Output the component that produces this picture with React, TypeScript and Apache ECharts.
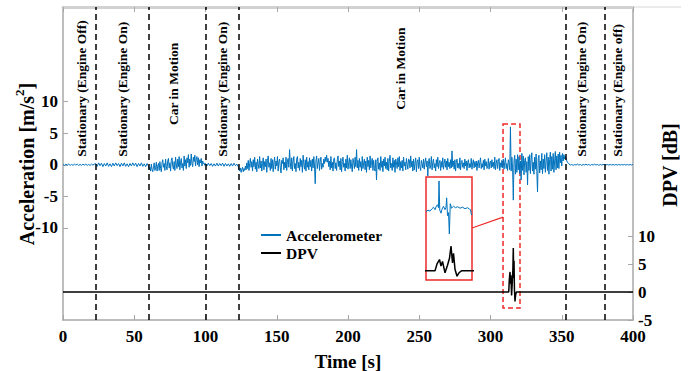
import React, { useEffect, useRef } from "react";
import * as echarts from "echarts";

const FONT = '"Liberation Serif", "Times New Roman", Times, serif';
const BLUE = "#0072BD";
const RED = "#ee2a2a";
const AXIS_GRAY = "#a8a8a8";

// ---- axis ticks / ranges ----
const xInterval = 50;
const accelTickValues = [-10, -5, 0, 5, 10];
const dpvTickValues = [-5, 0, 5, 10];

// ---- phase dividers and labels ----
const dividerTimes = [23, 60, 100, 123, 353, 380];
const regionLabels = [
  "Stationary (Engine Off)",
  "Stationary (Engine On)",
  "Car in Motion",
  "Stationary (Engine On)",
  "Car in Motion",
  "Stationary (Engine On)",
  "Stationary (Engine off)",
];
const regionLabelTimes = [13.3, 42.1, 77.2, 111.6, 236.5, 364.2, 388.8];
const regionLabelStartAccel = [1.25, 1.25, 6.3, 1.25, 8.7, 1.25, 1.25];

// ---- accelerometer ----
const accelEngineOff1 = [0.05, -0.1, 0.1, -0.05, 0.1, -0.1, 0.05, -0.1, 0.1, -0.05, 0.1, -0.1, 0.05, -0.1, 0.1, -0.05, 0.1, -0.1, 0.05, -0.1, 0.1, -0.05, 0.1];
const accelEngineOn1 = [
  0.2, -0.25, 0.3, -0.15, 0.25, -0.3, 0.2, -0.2, 0.3, -0.25,
  0.15, -0.3, 0.25, -0.2, 0.3, -0.15, 0.2, -0.3, 0.25, -0.2,
  0.3, -0.25, 0.15, -0.3, 0.2, -0.2, 0.3, -0.15, 0.25, -0.3,
  0.2, -0.2, 0.3, -0.25, 0.15, -0.3, 0.2,
];
const accelMotion1 = [
  -0.2, -0.7, -0.4, -1.0, 0.1, -0.8, -1.1, -0.3, 0.3, -0.9,
  -0.5, 0.4, -1.0, -0.2, 0.2, -0.9, 0.5, -0.6, -1.1, 0.3,
  0.8, -0.4, 0.2, -0.9, 0.9, -0.3, -0.8, 0.6, 1.0, -0.5,
  0.3, -1.0, 0.7, 1.1, -0.2, -0.7, 0.5, -0.9, 1.2, 0.1,
  -0.6, 0.9, -0.3, 1.3, -0.8, 0.4, 1.0, -0.5, 0.2, -0.9,
  1.4, -0.2, 0.8, -0.6, 1.1, 0.3, 1.6, -0.4, 0.9, -0.1,
  1.7, 0.2, -0.3, 1.2, 0.5, 1.5, -0.2, 0.9, 1.3, 0.0,
  1.1, -0.3, 0.8, 0.3, 1.0, -0.2, 0.6, 0.2, 0.3, -0.1,
];
const accelEngineOn2 = [0.2, -0.2, 0.25, -0.15, 0.2, -0.25, 0.15, -0.2, 0.25, -0.2, 0.2, -0.15, 0.25, -0.25, 0.2, -0.2, 0.15, -0.25, 0.2, -0.2, 0.25, -0.15, 0.1];
const accelMotion2 = [
  -0.3, -0.8, -1.0, -0.5, -1.2, -0.7, -0.4, -1.1, -0.6, -0.9,
  -0.2, -0.8, 0.3, -0.6, 0.7, -0.9, 0.2, 1.0, -0.4, 0.5,
  -1.0, 0.8, -0.3, 1.2, -0.7, 0.4, -1.1, 0.9, 0.1, -0.6,
  1.3, -0.5, 0.6, -1.0, 0.2, 1.1, -0.8, 0.5, -0.3, 0.9,
  -1.2, 0.7, 1.4, -0.4, 0.3, -0.9, 1.0, -0.6, 0.8, -1.1,
  0.4, 1.2, -0.7, 0.6, -0.2, 1.3, -1.0, 0.5, 0.9, -0.5,
  -1.3, 0.7, 0.2, 1.1, -0.8, 0.4, -0.5, 1.2, -0.9, 0.6,
  1.0, -0.4, 2.4, 0.3, -0.7, 1.1, -1.0, 0.6, 1.3, -0.6,
  0.2, -1.1, 0.9, 1.3, -0.5, 0.4, -0.9, 1.0, -0.3, 0.7,
  -1.2, 1.5, 0.1, -0.7, 0.8, -1.0, 1.2, -0.4, 0.5, -0.8,
  1.1, -0.3, 0.7, -1.0, 0.9, -0.5, 1.3, -0.2, -3.0, 0.6,
  1.4, -0.6, 0.3, 1.0, -0.9, 0.5, 1.2, -0.7, 0.2, -0.4,
  0.9, 0.2, 1.2, 0.5, 1.5, 0.4, 1.0, -0.3, 0.6, -0.8,
  1.3, -0.5, 0.4, -1.0, 0.9, 1.1, -0.6, 0.3, -0.9, 0.8,
  1.4, -0.3, 0.6, -0.8, 1.0, -1.1, 0.5, 1.2, -0.4, 0.2,
  -1.0, 0.9, -0.5, 1.5, -0.7, 0.3, 1.1, -0.6, 0.8, -0.2,
  -1.1, 1.0, 0.4, -0.6, 1.2, -0.3, 2.4, -0.5, 0.7, -0.9,
  1.0, -0.4, 0.5, -1.0, 1.3, -0.6, 0.3, 0.9, -0.8, 0.6,
  -1.2, 1.2, -0.3, 0.7, -0.8, 1.4, -0.5, 0.4, 1.0, -0.9,
  0.7, -0.6, -1.0, 0.8, -2.4, 0.5, 1.1, -0.7, 0.3, -0.9,
  1.3, -0.4, 0.6, -1.1, 0.9, -0.2, 1.2, -0.6, 0.4, -0.8,
  1.0, -1.0, 0.5, 1.5, -0.5, 0.2, -0.9, 1.1, -0.4, 0.7,
  -1.2, 0.9, 0.3, -0.6, 1.1, -0.3, 1.3, -0.9, 0.5, -0.5,
  0.7, -1.0, 1.2, -0.2, 0.4, -0.8, 1.0, 0.1, -0.7, 0.9,
  0.8, -0.5, 1.4, -0.3, 0.6, -1.0, 0.9, -0.8, 0.3, 1.1,
  -1.1, 0.5, 0.8, -0.6, 1.2, -0.4, -0.9, 0.7, 0.2, -0.5,
  0.9, -0.7, 0.4, 1.1, -0.3, 0.6, -1.8, 0.5, 1.0, -0.6,
  -0.2, 1.3, -0.8, 0.4, 0.9, -0.5, 0.2, -1.0, 0.8, -0.3,
  1.2, -0.6, 0.3, 0.7, -0.9, 0.5, -0.4, 1.1, -0.7, 0.2,
  0.9, -0.4, 0.6, -0.8, 1.0, -0.3, 0.4, -0.6, 0.8, -0.5,
  2.2, -0.3, 0.6, -0.7, 0.8, -1.0, 0.4, 0.9, -0.5, 0.2,
  -0.6, 1.1, -0.8, 0.5, 0.7, -0.4, 0.3, -0.6, 0.9, -0.2,
  0.6, -0.9, 0.4, 0.8, -0.5, 0.2, -0.4, 1.0, -0.7, 0.3,
  0.8, -0.5, 0.5, -0.3, 0.6, -0.9, 0.3, 0.7, -0.5, 0.4,
  1.1, -0.6, 0.2, -0.4, 0.7, -0.8, 0.9, -0.2, 0.5, -0.6,
  -0.4, 1.0, -0.7, 0.3, 0.6, -0.5, 0.8, -0.3, 0.4, -0.6,
  1.2, -0.8, 0.2, 0.8, -0.6, 0.5, 1.0, -0.9, 0.3, -0.4,
  0.7, -0.5, 0.9, -0.7, 0.4, 1.1, -0.6, 0.2, -0.9, 0.8,
  0.3, -0.8, 6.0, -1.0, 1.2, -0.5, -5.6, 0.6, 1.5, -1.5,
  0.9, -1.2, 1.6, -0.8, 1.3, -1.4, 0.6, -2.4, 1.8, -0.9,
  1.4, -1.6, 0.7, 1.1, -1.2, 0.5, -3.2, 1.3, -0.9, 1.6,
  -1.4, 0.8, 1.9, -1.0, 0.4, -1.5, 1.2, -0.7, 1.7, -1.1,
  -4.3, 1.0, 1.5, -1.3, 0.6, -0.8, 1.8, -1.4, 0.9, -0.6,
  1.6, -1.2, 0.5, 1.9, -0.9, 1.2, -1.5, 0.8, 2.0, -1.0,
  1.3, -0.7, 1.8, -1.2, 0.6, 2.1, -0.8, 1.4, -0.5, 1.7,
  -0.6, 2.0, 0.3, 1.5, -0.2, 1.8, 0.6, 1.6, 0.9, 1.3,
];
const accelEngineOn3 = [0.9, 0.4, 0.15, -0.05, 0.05, -0.1, 0.05, -0.05, 0.1, -0.05, 0.05, -0.1, 0.05, -0.05, 0.1, -0.05, 0.05, -0.1, 0.05, -0.05, 0.1, -0.05, 0.05, -0.1, 0.05, -0.05, 0.05];
const accelEngineOff2 = [0.05, -0.05, 0.05, -0.05, 0.05, -0.05, 0.05, -0.05, 0.05, -0.05, 0.05, -0.05, 0.05, -0.05, 0.05, -0.05, 0.05, -0.05, 0.05, -0.05, 0.05];
const accelSegments = [
  { start: 0, step: 1, values: accelEngineOff1 },
  { start: 23, step: 1, values: accelEngineOn1 },
  { start: 60, step: 0.5, values: accelMotion1 },
  { start: 100, step: 1, values: accelEngineOn2 },
  { start: 123, step: 0.5, values: accelMotion2 },
  { start: 353, step: 1, values: accelEngineOn3 },
  { start: 380, step: 1, values: accelEngineOff2 },
];

// ---- DPV ----
const dpvTime = [0, 312.8, 313.2, 313.7, 314.0, 314.3, 314.8, 315.3, 315.7, 316.0, 316.3, 316.5, 316.8, 317.2, 317.6, 318.1, 400];
const dpvValues = [0, 0, 2.2, 3.6, 1.5, 3.0, -0.6, 1.8, 4.0, 7.9, 2.5, 5.6, 0.5, -1.7, -0.6, 0, 0];

// ---- inset (zoomed accelerometer) ----
const insetRange = [311, 320.2];
const insetAccelTime = [311.0, 311.4, 311.8, 312.2, 312.5, 312.8, 313.1, 313.3, 313.5, 313.6, 313.75, 314.0, 314.2, 314.5, 314.8, 315.0, 315.13, 315.3, 315.5, 315.67, 315.85, 316.1, 316.5, 316.9, 317.3, 317.8, 318.3, 318.8, 319.3, 319.7, 319.9, 320.1];
const insetAccelValues = [0.0, 0.3, 0.1, 0.6, 0.9, 0.4, 1.2, 1.4, 0.8, 6.2, 0.3, -0.3, 0.5, 1.1, 0.4, 0.9, 2.8, -0.8, -0.2, -4.5, 1.6, 0.7, 1.1, 0.8, 1.0, 0.7, 0.9, 0.6, 0.8, 0.5, 0.4, -0.7];

// ---- highlighted window (dashed box) ----
const windowTime = [308.8, 320.7];
const windowAccel = [6.47, -22.7];

const accelData = accelSegments.flatMap((s) => s.values.map((v, i) => [s.start + i * s.step, v]));
const dpvData = dpvTime.map((t, i) => [t, dpvValues[i]]);
const insetAccelData = insetAccelTime.map((t, i) => [t, insetAccelValues[i]]);

const tickLabel = { color: "#000", fontSize: 17, fontWeight: "bold", fontFamily: FONT };

export default function App() {
  const ref = useRef<HTMLDivElement>(null);
  useEffect(() => {
    if (!ref.current) return;
    const chart = echarts.init(ref.current, null, { renderer: "svg" });
    const option: any = {
      animation: false,
      backgroundColor: "#fff",
      textStyle: { fontFamily: FONT },
      grid: [
        { left: 63, right: 61, top: 7, bottom: 51, containLabel: false, outerBoundsMode: "none" },
        { left: 426, top: 177, width: 46, height: 103, show: true, borderColor: RED, borderWidth: 1.5, backgroundColor: "#fff", containLabel: false, outerBoundsMode: "none" },
      ],
      legend: {
        data: ["Accelerometer", "DPV"],
        orient: "vertical",
        left: 256,
        top: 222,
        icon: "rect",
        itemWidth: 20,
        itemHeight: 2,
        itemGap: 2,
        textStyle: { color: "#000", fontSize: 15.5, fontWeight: "bold", fontFamily: FONT, lineHeight: 16 },
      },
      xAxis: [
        {
          gridIndex: 0, type: "value", min: 0, max: 400, interval: xInterval, position: "bottom",
          axisLine: { show: true, onZero: false, lineStyle: { color: AXIS_GRAY, width: 1.5 } },
          axisTick: { show: true, inside: true, length: 5, lineStyle: { color: AXIS_GRAY } },
          axisLabel: { ...tickLabel, margin: 8 },
          splitLine: { show: false },
          name: "Time [s]", nameLocation: "middle", nameGap: 32,
          nameTextStyle: { color: "#000", fontSize: 19, fontWeight: "bold", fontFamily: FONT },
        },
        {
          gridIndex: 0, type: "value", min: 0, max: 400, interval: xInterval, position: "top",
          axisLine: { show: true, onZero: false, lineStyle: { color: "#d2d2d2", width: 3 } },
          axisTick: { show: true, inside: true, length: 5, lineStyle: { color: AXIS_GRAY } },
          axisLabel: { show: false },
          splitLine: { show: false },
        },
        { gridIndex: 1, type: "value", min: insetRange[0], max: insetRange[1], show: false, splitLine: { show: false } },
      ],
      yAxis: [
        {
          gridIndex: 0, type: "value", min: -24.6, max: 25, position: "left",
          axisLine: { show: true, onZero: false, lineStyle: { color: AXIS_GRAY, width: 1.5 } },
          axisTick: { show: true, inside: true, length: 5, customValues: accelTickValues, lineStyle: { color: AXIS_GRAY } },
          axisLabel: { ...tickLabel, margin: 5, customValues: accelTickValues },
          splitLine: { show: false },
        },
        {
          gridIndex: 0, type: "value", min: -5, max: 51, position: "right",
          axisLine: { show: true, onZero: false, lineStyle: { color: AXIS_GRAY, width: 1.5 } },
          axisTick: { show: true, inside: true, length: 5, customValues: dpvTickValues, lineStyle: { color: AXIS_GRAY } },
          axisLabel: { ...tickLabel, margin: 5, customValues: dpvTickValues },
          splitLine: { show: false },
        },
        { gridIndex: 1, type: "value", min: -13.8, max: 7, show: false, splitLine: { show: false } },
        { gridIndex: 1, type: "value", min: -2.9, max: 29.8, show: false, splitLine: { show: false } },
      ],
      series: [
        {
          name: "Accelerometer", type: "line", xAxisIndex: 0, yAxisIndex: 0,
          data: accelData, showSymbol: false, symbol: "none",
          lineStyle: { color: BLUE, width: 1 }, itemStyle: { color: BLUE }, z: 3,
          markLine: {
            silent: true, symbol: ["none", "none"], label: { show: false },
            lineStyle: { color: "#000", type: [6, 4], width: 1.5 },
            data: dividerTimes.map((t) => ({ xAxis: t })),
          },
          markArea: {
            silent: true,
            itemStyle: { color: "rgba(0,0,0,0)", borderColor: RED, borderWidth: 1.5, borderType: [5, 3] },
            data: [[{ xAxis: windowTime[0], yAxis: windowAccel[0] }, { xAxis: windowTime[1], yAxis: windowAccel[1] }]],
          },
        },
        {
          name: "DPV", type: "line", xAxisIndex: 0, yAxisIndex: 1,
          data: dpvData, showSymbol: false, symbol: "none",
          lineStyle: { color: "#000", width: 1.5 }, itemStyle: { color: "#000" }, z: 4,
        },
        {
          name: "insetAccel", type: "line", xAxisIndex: 2, yAxisIndex: 2,
          data: insetAccelData, showSymbol: false, symbol: "none",
          lineStyle: { color: BLUE, width: 1 }, z: 5,
        },
        {
          name: "insetDpv", type: "line", xAxisIndex: 2, yAxisIndex: 3,
          data: dpvData, showSymbol: false, symbol: "none",
          lineStyle: { color: "#000", width: 1.5 }, z: 5,
        },
      ],
    };
    chart.setOption(option);

    const labelStyle = { fill: "#000", fontSize: 13.5, fontWeight: "bold", fontFamily: FONT, align: "left", verticalAlign: "middle" };
    const graphics: any[] = regionLabels.map((txt, i) => {
      const p = chart.convertToPixel({ xAxisIndex: 0, yAxisIndex: 0 }, [regionLabelTimes[i], regionLabelStartAccel[i]]) as number[];
      return { type: "text", x: p[0], y: p[1], rotation: Math.PI / 2, silent: true, style: { ...labelStyle, text: txt } };
    });
    const a = chart.convertToPixel({ xAxisIndex: 2, yAxisIndex: 2 }, [insetRange[1], -3.3]) as number[];
    const b = chart.convertToPixel({ xAxisIndex: 0, yAxisIndex: 0 }, [windowTime[0], -8.3]) as number[];
    graphics.push({ type: "line", silent: true, shape: { x1: a[0], y1: a[1], x2: b[0], y2: b[1] }, style: { stroke: RED, lineWidth: 1.2 } });
    graphics.push({ type: "line", silent: true, shape: { x1: 633, y1: 7, x2: 681, y2: 7 }, style: { stroke: "#d8d8d8", lineWidth: 1 } });
    graphics.push({
      type: "text", x: 25, y: 164, rotation: Math.PI / 2, silent: true,
      style: {
        text: "{a|Acceleration [m/s}{s|2}{a|]}", align: "center", verticalAlign: "middle",
        rich: {
          a: { fill: "#000", fontSize: 20, fontWeight: "bold", fontFamily: FONT, lineHeight: 24, verticalAlign: "bottom" },
          s: { fill: "#000", fontSize: 13, fontWeight: "bold", fontFamily: FONT, verticalAlign: "top" },
        },
      },
    });
    graphics.push({
      type: "text", x: 670, y: 165, rotation: Math.PI / 2, silent: true,
      style: { text: "DPV [dB]", fill: "#000", fontSize: 20, fontWeight: "bold", fontFamily: FONT, align: "center", verticalAlign: "middle" },
    });
    chart.setOption({ graphic: graphics });

    return () => chart.dispose();
  }, []);
  return <div ref={ref} style={{ position: "fixed", left: 0, top: 0, width: 694, height: 371, background: "#fff" }} />;
}
